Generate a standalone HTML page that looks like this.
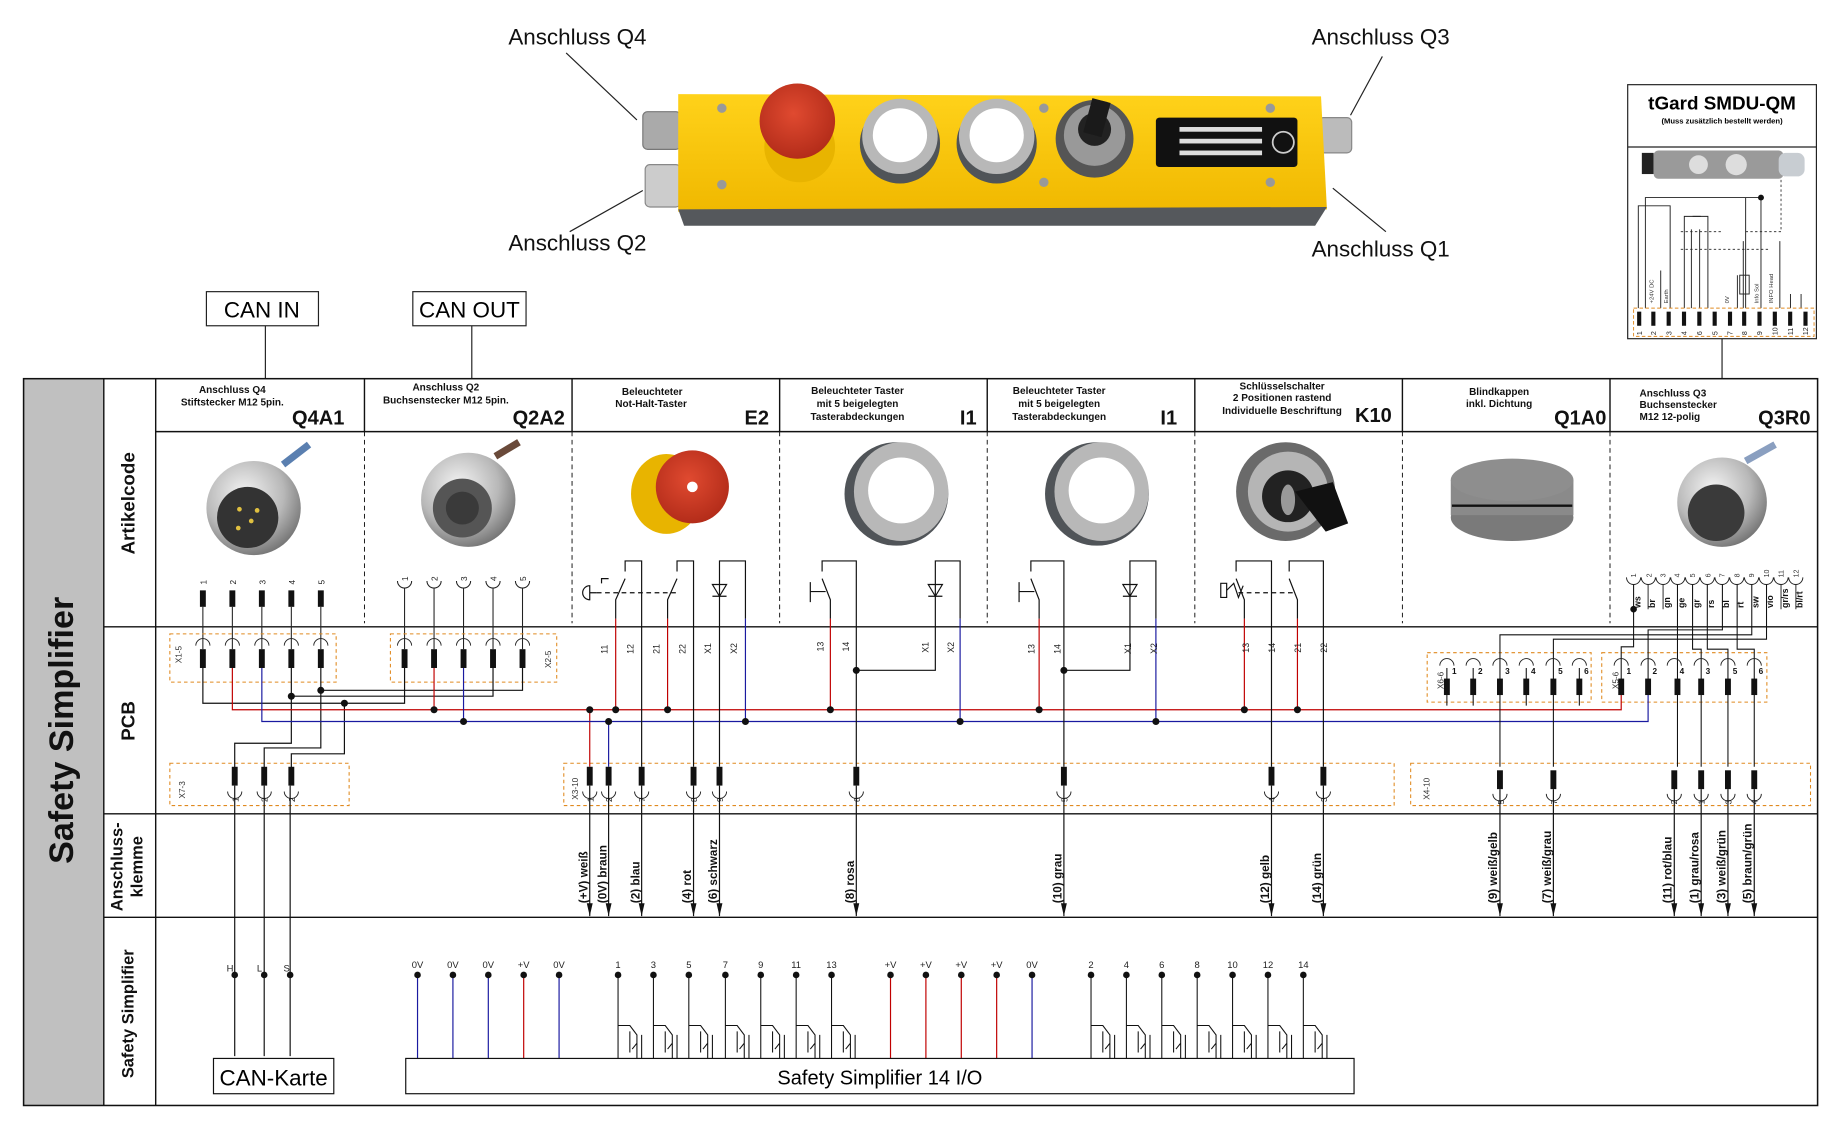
<!DOCTYPE html>
<html><head><meta charset="utf-8"><style>
html,body{margin:0;padding:0;background:#fff}
svg{display:block}
text{font-family:"Liberation Sans",sans-serif}
</style></head><body>
<svg width="1840" height="1129" viewBox="0 0 1560 960" preserveAspectRatio="none" xmlns="http://www.w3.org/2000/svg">
<defs>
<radialGradient id="silver" cx="40%" cy="35%" r="70%"><stop offset="0" stop-color="#f4f4f4"/><stop offset="0.6" stop-color="#b8b8b8"/><stop offset="1" stop-color="#707070"/></radialGradient>
<radialGradient id="red" cx="45%" cy="40%" r="65%"><stop offset="0" stop-color="#e04a30"/><stop offset="1" stop-color="#b02a18"/></radialGradient>
<linearGradient id="yel" x1="0" y1="0" x2="0" y2="1"><stop offset="0" stop-color="#ffd21a"/><stop offset="1" stop-color="#f0b800"/></linearGradient>
</defs>

<!-- Top labels -->
<g font-size="19" fill="#111">
<text x="431" y="38">Anschluss Q4</text>
<text x="1112" y="38">Anschluss Q3</text>
<text x="431" y="213">Anschluss Q2</text>
<text x="1112" y="218">Anschluss Q1</text>
</g>
<g stroke="#222" stroke-width="1">
<line x1="480" y1="45" x2="540" y2="102"/>
<line x1="1172" y1="48" x2="1145" y2="98"/>
<line x1="483" y1="197" x2="545" y2="162"/>
<line x1="1130" y1="160" x2="1175" y2="197"/>
</g>
<!-- device -->
<rect x="545" y="95" width="32" height="32" rx="4" fill="#aaa" stroke="#777"/>
<rect x="547" y="140" width="30" height="36" rx="4" fill="#ccc" stroke="#888"/>
<rect x="1118" y="100" width="28" height="30" rx="4" fill="#bbb" stroke="#888"/>
<polygon points="575,80 1120,82 1125,178 575,180" fill="url(#yel)"/>
<polygon points="575,178 1125,176 1115,192 580,192" fill="#55585c"/>
<circle cx="678" cy="125" r="30" fill="#e8b400"/>
<circle cx="676" cy="103" r="32" fill="url(#red)"/>
<circle cx="763" cy="122" r="34" fill="#505458"/>
<circle cx="763" cy="116" r="32" fill="#b8b8b8"/><circle cx="763" cy="115" r="23" fill="#fff"/>
<circle cx="845" cy="122" r="34" fill="#505458"/>
<circle cx="845" cy="116" r="32" fill="#b8b8b8"/><circle cx="845" cy="115" r="23" fill="#fff"/>
<circle cx="928" cy="118" r="33" fill="#555"/><circle cx="928" cy="115" r="26" fill="#999"/><circle cx="928" cy="110" r="14" fill="#222"/>
<rect x="922" y="85" width="16" height="30" fill="#1a1a1a" transform="rotate(15 930 100)"/>
<rect x="980" y="100" width="120" height="42" rx="3" fill="#111"/>
<g fill="#ddd"><rect x="1000" y="108" width="70" height="4"/><rect x="1000" y="118" width="70" height="4"/><rect x="1000" y="128" width="70" height="4"/></g>
<circle cx="1088" cy="121" r="9" fill="none" stroke="#ccc" stroke-width="1.5"/>
<g fill="#999"><circle cx="612" cy="92" r="4"/><circle cx="612" cy="157" r="4"/><circle cx="885" cy="92" r="4"/><circle cx="885" cy="155" r="4"/><circle cx="1077" cy="92" r="4"/><circle cx="1077" cy="155" r="4"/></g>

<!-- SMDU box -->
<rect x="1380" y="72" width="160" height="216" fill="#fff" stroke="#222" stroke-width="1"/>
<line x1="1380" y1="125" x2="1540" y2="125" stroke="#222"/>
<text x="1460" y="93" font-size="16" font-weight="bold" text-anchor="middle">tGard SMDU-QM</text>
<text x="1460" y="105" font-size="6.5" font-weight="bold" text-anchor="middle">(Muss zusätzlich bestellt werden)</text>
<rect x="1392" y="130" width="10" height="18" fill="#222"/>
<rect x="1402" y="128" width="110" height="24" rx="4" fill="#9a9a9a"/>
<rect x="1508" y="130" width="22" height="20" rx="6" fill="#c8cdd2"/>
<circle cx="1440" cy="140" r="8" fill="#ddd"/><circle cx="1472" cy="140" r="9" fill="#ddd"/>
<g fill="none" stroke="#222" stroke-width="0.8">
<path d="M1389,262 V175 H1416 V262"/>
<path d="M1395,262 V168 H1493 V262"/>
<path d="M1428,262 V184 H1442 M1441,195 V262"/>
<path d="M1448,262 V184 H1435 M1434,195 V262"/>
<path d="M1473,262 V234 M1478,262 V205"/>
<path d="M1480,262 V168 M1509,262 V205"/>
<path d="M1527,262 V250 M1518,262 V250 M1408,262 V230"/>
<rect x="1475" y="234" width="8" height="16"/>
</g>
<g fill="none" stroke="#222" stroke-width="0.7" stroke-dasharray="2,2">
<path d="M1425,197 H1460 M1480,197 H1510 V152"/>
<path d="M1425,212 H1500"/>
</g>
<circle cx="1493" cy="168" r="2.5" fill="#111"/>
<g font-size="5" fill="#333">
<text transform="translate(1402,258) rotate(-90)">+24V DC</text>
<text transform="translate(1414,258) rotate(-90)">Earth</text>
<text transform="translate(1466,258) rotate(-90)">0V</text>
<text transform="translate(1491,258) rotate(-90)">Info Sol</text>
<text transform="translate(1503,258) rotate(-90)">INFO Head</text>
</g>
<rect x="1385" y="262" width="153" height="24" fill="none" stroke="#e08a20" stroke-dasharray="3,2" stroke-width="0.8"/>
<g fill="#111">
<rect x="1388" y="265" width="3.5" height="12"/><rect x="1400" y="265" width="3.5" height="12"/><rect x="1413" y="265" width="3.5" height="12"/><rect x="1426" y="265" width="3.5" height="12"/><rect x="1439" y="265" width="3.5" height="12"/><rect x="1452" y="265" width="3.5" height="12"/><rect x="1465" y="265" width="3.5" height="12"/><rect x="1477" y="265" width="3.5" height="12"/><rect x="1490" y="265" width="3.5" height="12"/><rect x="1503" y="265" width="3.5" height="12"/><rect x="1516" y="265" width="3.5" height="12"/><rect x="1529" y="265" width="3.5" height="12"/>
</g>
<g font-size="6" fill="#222">
<text transform="translate(1392,285) rotate(-90)">1</text><text transform="translate(1404,285) rotate(-90)">2</text><text transform="translate(1417,285) rotate(-90)">3</text><text transform="translate(1430,285) rotate(-90)">4</text><text transform="translate(1443,285) rotate(-90)">6</text><text transform="translate(1456,285) rotate(-90)">5</text><text transform="translate(1469,285) rotate(-90)">7</text><text transform="translate(1481,285) rotate(-90)">8</text><text transform="translate(1494,285) rotate(-90)">9</text><text transform="translate(1507,285) rotate(-90)">10</text><text transform="translate(1520,285) rotate(-90)">11</text><text transform="translate(1533,285) rotate(-90)">12</text>
</g>
<line x1="1460" y1="288" x2="1460" y2="322" stroke="#222"/>

<!-- CAN boxes -->
<rect x="175" y="248" width="95" height="29" fill="#fff" stroke="#222"/>
<text x="222" y="270" font-size="19" text-anchor="middle">CAN IN</text>
<rect x="350" y="248" width="96" height="29" fill="#fff" stroke="#222"/>
<text x="398" y="270" font-size="19" text-anchor="middle">CAN OUT</text>
<line x1="225" y1="277" x2="225" y2="322" stroke="#222"/>
<line x1="400" y1="277" x2="400" y2="322" stroke="#222"/>

<!-- main frame -->
<rect x="20" y="322" width="68" height="618" fill="#c0c0c0"/>
<rect x="20" y="322" width="1521" height="618" fill="none" stroke="#111" stroke-width="1.3"/>
<g stroke="#111" stroke-width="1.2">
<line x1="88" y1="322" x2="88" y2="940"/>
<line x1="132" y1="322" x2="132" y2="940"/>
<line x1="132" y1="367" x2="1541" y2="367"/>
<line x1="88" y1="533" x2="1541" y2="533"/>
<line x1="88" y1="692" x2="1541" y2="692"/>
<line x1="88" y1="780" x2="1541" y2="780"/>
<line x1="309" y1="322" x2="309" y2="367"/><line x1="485" y1="322" x2="485" y2="367"/><line x1="661" y1="322" x2="661" y2="367"/><line x1="837" y1="322" x2="837" y2="367"/><line x1="1013" y1="322" x2="1013" y2="367"/><line x1="1189" y1="322" x2="1189" y2="367"/><line x1="1365" y1="322" x2="1365" y2="367"/>
</g>
<g stroke="#111" stroke-width="0.8" stroke-dasharray="4,3">
<line x1="309" y1="367" x2="309" y2="530"/><line x1="485" y1="367" x2="485" y2="530"/><line x1="661" y1="367" x2="661" y2="530"/><line x1="837" y1="367" x2="837" y2="530"/><line x1="1013" y1="367" x2="1013" y2="530"/><line x1="1189" y1="367" x2="1189" y2="530"/><line x1="1365" y1="367" x2="1365" y2="530"/>
</g>
<text transform="translate(62,621) rotate(-90)" font-size="29" font-weight="bold" text-anchor="middle" fill="#111">Safety Simplifier</text>
<g font-weight="bold" fill="#111" text-anchor="middle">
<text transform="translate(114,428) rotate(-90)" font-size="16">Artikelcode</text>
<text transform="translate(114,613) rotate(-90)" font-size="16">PCB</text>
<text transform="translate(104,737) rotate(-90)" font-size="14">Anschluss-</text>
<text transform="translate(121,737) rotate(-90)" font-size="14">klemme</text>
<text transform="translate(113,862) rotate(-90)" font-size="14">Safety Simplifier</text>
</g>

<!-- headers -->
<g font-size="8.5" font-weight="bold" fill="#111" text-anchor="middle">
<text x="197" y="334">Anschluss Q4</text><text x="197" y="345">Stiftstecker M12 5pin.</text>
<text x="378" y="332">Anschluss Q2</text><text x="378" y="343">Buchsenstecker M12 5pin.</text>
<text x="553" y="336">Beleuchteter</text><text x="552" y="346">Not-Halt-Taster</text>
<text x="727" y="335">Beleuchteter Taster</text><text x="727" y="346">mit 5 beigelegten</text><text x="727" y="357">Tasterabdeckungen</text>
<text x="898" y="335">Beleuchteter Taster</text><text x="898" y="346">mit 5 beigelegten</text><text x="898" y="357">Tasterabdeckungen</text>
<text x="1087" y="331">Schlüsselschalter</text><text x="1087" y="341">2 Positionen rastend</text><text x="1087" y="352">Individuelle Beschriftung</text>
<text x="1271" y="336">Blindkappen</text><text x="1271" y="346">inkl. Dichtung</text>
</g>
<g font-size="8.5" font-weight="bold" fill="#111">
<text x="1390" y="337">Anschluss Q3</text><text x="1390" y="347">Buchsenstecker</text><text x="1390" y="357">M12 12-polig</text>
</g>
<g font-size="17" font-weight="bold" fill="#111" text-anchor="end">
<text x="292" y="361">Q4A1</text><text x="479" y="361">Q2A2</text><text x="652" y="361">E2</text><text x="828" y="361">I1</text><text x="998" y="361">I1</text><text x="1180" y="359">K10</text><text x="1362" y="361">Q1A0</text><text x="1535" y="361">Q3R0</text>
</g>

<!-- article images -->
<circle cx="215" cy="432" r="40" fill="url(#silver)"/><circle cx="210" cy="440" r="26" fill="#333"/>
<g fill="#e0c040"><circle cx="203" cy="433" r="2"/><circle cx="213" cy="443" r="2"/><circle cx="202" cy="449" r="2"/><circle cx="218" cy="434" r="2"/></g>
<path d="M240,395 L262,378" stroke="#5a7fb0" stroke-width="6"/>
<circle cx="397" cy="425" r="40" fill="url(#silver)"/><circle cx="392" cy="432" r="25" fill="#555"/><circle cx="392" cy="432" r="14" fill="#3a3a3a"/>
<path d="M420,388 L440,376" stroke="#6a4a3a" stroke-width="6"/>
<ellipse cx="565" cy="420" rx="30" ry="34" fill="#e8b400"/>
<circle cx="587" cy="414" r="31" fill="url(#red)"/><circle cx="587" cy="414" r="4.5" fill="#fff"/>
<ellipse cx="760" cy="420" rx="44" ry="44" fill="#505458"/><ellipse cx="764" cy="418" rx="40" ry="42" fill="#b8b8b8"/><circle cx="764" cy="417" r="28" fill="#fff"/>
<ellipse cx="930" cy="420" rx="44" ry="44" fill="#505458"/><ellipse cx="934" cy="418" rx="40" ry="42" fill="#b8b8b8"/><circle cx="934" cy="417" r="28" fill="#fff"/>
<circle cx="1090" cy="418" r="42" fill="#6a6a6a"/><circle cx="1092" cy="418" r="34" fill="#b5b5b5"/><circle cx="1092" cy="422" r="22" fill="#222"/>
<path d="M1098,418 L1130,410 L1143,445 L1124,452 Z" fill="#111"/><ellipse cx="1092" cy="425" rx="6" ry="13" fill="#999"/>
<ellipse cx="1282" cy="440" rx="52" ry="20" fill="#7a7a7a"/>
<rect x="1230" y="408" width="104" height="30" fill="#8a8a8a"/>
<ellipse cx="1282" cy="408" rx="52" ry="18" fill="#8e8e8e"/>
<line x1="1231" y1="430" x2="1333" y2="430" stroke="#111" stroke-width="2"/>
<circle cx="1460" cy="427" r="38" fill="url(#silver)"/><circle cx="1455" cy="436" r="24" fill="#3a3a3a"/>
<path d="M1480,392 L1505,378" stroke="#8a9fc0" stroke-width="6"/>

<!-- Q4A1 pins -->
<g font-size="7" fill="#222">
<text transform="translate(175,497) rotate(-90)">1</text><text transform="translate(200,497) rotate(-90)">2</text><text transform="translate(225,497) rotate(-90)">3</text><text transform="translate(250,497) rotate(-90)">4</text><text transform="translate(275,497) rotate(-90)">5</text>
<text transform="translate(346,494) rotate(-90)">1</text><text transform="translate(371,494) rotate(-90)">2</text><text transform="translate(396,494) rotate(-90)">3</text><text transform="translate(421,494) rotate(-90)">4</text><text transform="translate(446,494) rotate(-90)">5</text>
</g>
<g fill="#111">
<rect x="169.5" y="502" width="5" height="14"/><rect x="194.5" y="502" width="5" height="14"/><rect x="219.5" y="502" width="5" height="14"/><rect x="244.5" y="502" width="5" height="14"/><rect x="269.5" y="502" width="5" height="14"/>
</g>
<g fill="none" stroke="#222" stroke-width="0.9">
<path d="M172,516 V552 M197,516 V552 M222,516 V552 M247,516 V552 M272,516 V552"/>
<path d="M337,494 a6,6 0 0 0 12,0 M362,494 a6,6 0 0 0 12,0 M387,494 a6,6 0 0 0 12,0 M412,494 a6,6 0 0 0 12,0 M437,494 a6,6 0 0 0 12,0"/>
<path d="M343,500 V552 M368,500 V552 M393,500 V552 M418,500 V552 M443,500 V552"/>
</g>
<!-- X1-5 / X2-5 -->
<g fill="none" stroke="#e08a20" stroke-width="0.9" stroke-dasharray="3,2.5">
<rect x="144" y="539" width="141" height="41"/><rect x="331" y="539" width="141" height="41"/>
<rect x="144" y="649" width="152" height="36"/>
<rect x="478" y="649" width="704" height="36"/>
<rect x="1196" y="649" width="339" height="36"/>
<rect x="1210" y="555" width="139" height="42"/>
<rect x="1358" y="555" width="140" height="42"/>
</g>
<g font-size="7" fill="#333">
<text transform="translate(154,564) rotate(-90)">X1-5</text>
<text transform="translate(467,568) rotate(-90)">X2-5</text>
<text transform="translate(157,679) rotate(-90)">X7-3</text>
<text transform="translate(490,680) rotate(-90)">X3-10</text>
<text transform="translate(1212,680) rotate(-90)">X4-10</text>
<text transform="translate(1224,586) rotate(-90)">X6-6</text>
<text transform="translate(1372,586) rotate(-90)">X5-6</text>
</g>
<g fill="none" stroke="#222" stroke-width="0.8">
<path d="M166,549 a6,6 0 0 1 12,0 M191,549 a6,6 0 0 1 12,0 M216,549 a6,6 0 0 1 12,0 M241,549 a6,6 0 0 1 12,0 M266,549 a6,6 0 0 1 12,0"/>
<path d="M337,549 a6,6 0 0 1 12,0 M362,549 a6,6 0 0 1 12,0 M387,549 a6,6 0 0 1 12,0 M412,549 a6,6 0 0 1 12,0 M437,549 a6,6 0 0 1 12,0"/>
</g>
<g fill="#111">
<rect x="169.5" y="552" width="5" height="16"/><rect x="194.5" y="552" width="5" height="16"/><rect x="219.5" y="552" width="5" height="16"/><rect x="244.5" y="552" width="5" height="16"/><rect x="269.5" y="552" width="5" height="16"/>
<rect x="340.5" y="552" width="5" height="16"/><rect x="365.5" y="552" width="5" height="16"/><rect x="390.5" y="552" width="5" height="16"/><rect x="415.5" y="552" width="5" height="16"/><rect x="440.5" y="552" width="5" height="16"/>
</g>

<!-- PCB wiring black -->
<g fill="none" stroke="#111" stroke-width="1">
<path d="M172,568 V598 H343 V568"/>
<path d="M247,568 V592 H418 V568"/>
<path d="M272,568 V587 H443 V568"/>
<path d="M199,653 V632 H247 V592"/>
<path d="M224,653 V636 H272 V587"/>
<path d="M247,653 V641 H292 V598"/>
</g>
<g fill="none" stroke="#c00000" stroke-width="1">
<path d="M197,568 V603.5 H1374.5 V580"/>
<path d="M368,568 V603.5"/>
<path d="M500,603.5 V652"/>
<path d="M522,526 V603.5 M566,526 V603.5 M704,526 V603.5 M881,526 V603.5 M1055,526 V603.5 M1100,526 V603.5"/>
</g>
<g fill="none" stroke="#1a1aa0" stroke-width="1">
<path d="M222,568 V613.5 H1397.3 V580"/>
<path d="M393,568 V613.5"/>
<path d="M516,613.5 V652"/>
<path d="M632,526 V613.5 M814,526 V613.5 M980,526 V613.5"/>
</g>
<g fill="#111">
<circle cx="247" cy="592" r="3"/><circle cx="272" cy="587" r="3"/><circle cx="292" cy="598" r="3"/>
<circle cx="368" cy="603.5" r="3"/><circle cx="393" cy="613.5" r="3"/>
<circle cx="500" cy="603.5" r="3"/><circle cx="522" cy="603.5" r="3"/><circle cx="566" cy="603.5" r="3"/><circle cx="704" cy="603.5" r="3"/><circle cx="881" cy="603.5" r="3"/><circle cx="1055" cy="603.5" r="3"/><circle cx="1100" cy="603.5" r="3"/>
<circle cx="516" cy="613.5" r="3"/><circle cx="632" cy="613.5" r="3"/><circle cx="814" cy="613.5" r="3"/><circle cx="980" cy="613.5" r="3"/>
<circle cx="726" cy="570" r="3"/><circle cx="902" cy="570" r="3"/>
</g>

<!-- switch symbols E2 / I1 / K10 -->
<g fill="none" stroke="#111" stroke-width="1">
<path d="M522,526 V510 L530,492 M530,486 V477 H544 V652"/>
<path d="M566,526 V510 L574,492 M574,486 V477 H588 V652"/>
<path d="M610,652 V477 H632 V526"/>
<path d="M604,497 H616 L610,507 Z M604,507 H616"/>
<path d="M704,526 V510 L697,492 M697,486 V477 H726 V652"/>
<path d="M726,570 H793 V477 H814 V526"/>
<path d="M787,497 H799 L793,507 Z M787,507 H799"/>
<path d="M881,526 V510 L874,492 M874,486 V477 H902 V652"/>
<path d="M902,570 H958 V477 H980 V526"/>
<path d="M952,497 H964 L958,507 Z M952,507 H964"/>
<path d="M1055,526 V510 L1048,492 M1048,486 V477 H1078 V652"/>
<path d="M1100,526 V510 L1093,492 M1093,486 V477 H1122 V652"/>
<path d="M687,495 V512 M687,503 H700"/>
<path d="M864,495 V512 M864,503 H877"/>
<path d="M500,498 a6,6 0 0 0 0,12 Z M500,504 H506 M510,496 V492 H516"/>
<path d="M1035,496 h5 v12 h-5 Z M1040,502 l6,-6 l4,12 l4,-10"/>
</g>
<g fill="none" stroke="#111" stroke-width="1" stroke-dasharray="4,3">
<path d="M506,504 H574"/><path d="M1050,504 H1096"/>
</g>
<g font-size="7.5" fill="#222">
<text transform="translate(515,556) rotate(-90)">11</text><text transform="translate(537,556) rotate(-90)">12</text><text transform="translate(559,556) rotate(-90)">21</text><text transform="translate(581,556) rotate(-90)">22</text><text transform="translate(603,556) rotate(-90)">X1</text><text transform="translate(625,556) rotate(-90)">X2</text>
<text transform="translate(698,554) rotate(-90)">13</text><text transform="translate(720,554) rotate(-90)">14</text><text transform="translate(787,555) rotate(-90)">X1</text><text transform="translate(809,555) rotate(-90)">X2</text>
<text transform="translate(877,556) rotate(-90)">13</text><text transform="translate(899,556) rotate(-90)">14</text><text transform="translate(959,556) rotate(-90)">X1</text><text transform="translate(981,556) rotate(-90)">X2</text>
<text transform="translate(1059,555) rotate(-90)">13</text><text transform="translate(1081,555) rotate(-90)">14</text><text transform="translate(1103,555) rotate(-90)">21</text><text transform="translate(1125,555) rotate(-90)">22</text>
</g>

<!-- Q3 pins -->
<g font-size="6" fill="#333">
<text transform="translate(1387,491) rotate(-90)">1</text><text transform="translate(1400,491) rotate(-90)">2</text><text transform="translate(1412,491) rotate(-90)">3</text><text transform="translate(1424,491) rotate(-90)">4</text><text transform="translate(1437,491) rotate(-90)">5</text><text transform="translate(1450,491) rotate(-90)">6</text><text transform="translate(1462,491) rotate(-90)">7</text><text transform="translate(1475,491) rotate(-90)">8</text><text transform="translate(1487,491) rotate(-90)">9</text><text transform="translate(1500,491) rotate(-90)">10</text><text transform="translate(1512,491) rotate(-90)">11</text><text transform="translate(1525,491) rotate(-90)">12</text>
</g>
<g fill="none" stroke="#222" stroke-width="0.8">
<path d="M1379,491 a6,6 0 0 0 12,0 M1391.5,491 a6,6 0 0 0 12,0 M1404,491 a6,6 0 0 0 12,0 M1416.5,491 a6,6 0 0 0 12,0 M1429,491 a6,6 0 0 0 12,0 M1441.5,491 a6,6 0 0 0 12,0 M1454,491 a6,6 0 0 0 12,0 M1466.5,491 a6,6 0 0 0 12,0 M1479,491 a6,6 0 0 0 12,0 M1491.5,491 a6,6 0 0 0 12,0 M1504,491 a6,6 0 0 0 12,0 M1516.5,491 a6,6 0 0 0 12,0"/>
<path d="M1397.3,497 V518 M1410,497 V518 M1510,497 V518 M1522.6,497 V518"/>
</g>
<g font-size="7.5" font-weight="bold" fill="#111">
<text transform="translate(1391,517) rotate(-90)">ws</text><text transform="translate(1403,517) rotate(-90)">br</text><text transform="translate(1416,517) rotate(-90)">gn</text><text transform="translate(1428,517) rotate(-90)">ge</text><text transform="translate(1441,517) rotate(-90)">gr</text><text transform="translate(1453,517) rotate(-90)">rs</text><text transform="translate(1466,517) rotate(-90)">bl</text><text transform="translate(1478,517) rotate(-90)">rt</text><text transform="translate(1491,517) rotate(-90)">sw</text><text transform="translate(1503,517) rotate(-90)">vio</text><text transform="translate(1516,517) rotate(-90)">gr/rs</text><text transform="translate(1528,517) rotate(-90)">bl/rt</text>
</g>
<g fill="none" stroke="#111" stroke-width="0.9">
<path d="M1385,497 V550 H1374.5 V578"/>
<path d="M1460.3,497 V535.6 H1397.3 V578"/>
<path d="M1485.2,497 V539.8 H1271.7 V652"/>
<path d="M1497.7,497 V543.5 H1317 V652"/>
<path d="M1422.2,497 V652"/>
<path d="M1435,497 V552 H1442.3 V652"/>
<path d="M1447.5,497 V552 H1465 V652"/>
<path d="M1472.8,497 V552 H1487.3 V652"/>
<path d="M1226.7,568 V600 M1249,568 V600 M1294,568 V600 M1339,568 V600"/>
</g>
<circle cx="1385" cy="518" r="2.8" fill="#111"/>
<!-- X6 / X5 pins -->
<g fill="none" stroke="#222" stroke-width="0.8">
<path d="M1220.7,566 a6,6 0 0 1 12,0 M1243,566 a6,6 0 0 1 12,0 M1265.7,566 a6,6 0 0 1 12,0 M1288,566 a6,6 0 0 1 12,0 M1310.7,566 a6,6 0 0 1 12,0 M1333,566 a6,6 0 0 1 12,0"/>
<path d="M1368.5,566 a6,6 0 0 1 12,0 M1391.3,566 a6,6 0 0 1 12,0 M1413.5,566 a6,6 0 0 1 12,0 M1436.3,566 a6,6 0 0 1 12,0 M1459,566 a6,6 0 0 1 12,0 M1481.3,566 a6,6 0 0 1 12,0"/>
</g>
<g font-size="7" font-weight="bold" fill="#111" text-anchor="middle">
<text x="1233" y="573">1</text><text x="1255" y="573">2</text><text x="1278" y="573">3</text><text x="1300" y="573">4</text><text x="1323" y="573">5</text><text x="1345" y="573">6</text>
<text x="1381" y="573">1</text><text x="1403" y="573">2</text><text x="1426" y="573">4</text><text x="1448" y="573">3</text><text x="1471" y="573">5</text><text x="1493" y="573">6</text>
</g>
<g fill="#111">
<rect x="1224.2" y="577" width="5" height="14"/><rect x="1246.5" y="577" width="5" height="14"/><rect x="1269.2" y="577" width="5" height="14"/><rect x="1291.5" y="577" width="5" height="14"/><rect x="1314.5" y="577" width="5" height="14"/><rect x="1336.5" y="577" width="5" height="14"/>
<rect x="1372" y="577" width="5" height="14"/><rect x="1394.8" y="577" width="5" height="14"/><rect x="1419.7" y="577" width="5" height="14"/><rect x="1439.8" y="577" width="5" height="14"/><rect x="1462.5" y="577" width="5" height="14"/><rect x="1484.8" y="577" width="5" height="14"/>
</g>

<!-- lower terminal pins (X7, X3, X4) -->
<g fill="#111">
<rect x="196.5" y="652" width="5" height="16"/><rect x="221.5" y="652" width="5" height="16"/><rect x="244.5" y="652" width="5" height="16"/>
<rect x="497.5" y="652" width="5" height="16"/><rect x="513.5" y="652" width="5" height="16"/><rect x="541.5" y="652" width="5" height="16"/><rect x="585.5" y="652" width="5" height="16"/><rect x="607.5" y="652" width="5" height="16"/><rect x="723.5" y="652" width="5" height="16"/><rect x="899.5" y="652" width="5" height="16"/><rect x="1075.5" y="652" width="5" height="16"/><rect x="1119.5" y="652" width="5" height="16"/>
<rect x="1269.2" y="655" width="5" height="16"/><rect x="1314.5" y="655" width="5" height="16"/><rect x="1417" y="655" width="5" height="16"/><rect x="1439.8" y="655" width="5" height="16"/><rect x="1462.5" y="655" width="5" height="16"/><rect x="1484.8" y="655" width="5" height="16"/>
</g>
<g fill="none" stroke="#222" stroke-width="0.8">
<path d="M193,673 a6,6 0 0 0 12,0 M218,673 a6,6 0 0 0 12,0 M241,673 a6,6 0 0 0 12,0"/>
<path d="M494,673 a6,6 0 0 0 12,0 M510,673 a6,6 0 0 0 12,0 M538,673 a6,6 0 0 0 12,0 M582,673 a6,6 0 0 0 12,0 M604,673 a6,6 0 0 0 12,0 M720,673 a6,6 0 0 0 12,0 M896,673 a6,6 0 0 0 12,0 M1072,673 a6,6 0 0 0 12,0 M1116,673 a6,6 0 0 0 12,0"/>
<path d="M1265.7,675 a6,6 0 0 0 12,0 M1311,675 a6,6 0 0 0 12,0 M1413.5,675 a6,6 0 0 0 12,0 M1436.3,675 a6,6 0 0 0 12,0 M1459,675 a6,6 0 0 0 12,0 M1481.3,675 a6,6 0 0 0 12,0"/>
</g>
<g font-size="7" fill="#222">
<text transform="translate(202,682) rotate(-90)">1</text><text transform="translate(227,682) rotate(-90)">2</text><text transform="translate(250,682) rotate(-90)">2</text>
<text transform="translate(503,682) rotate(-90)">1</text><text transform="translate(519,682) rotate(-90)">2</text><text transform="translate(547,682) rotate(-90)">7</text><text transform="translate(591,682) rotate(-90)">8</text><text transform="translate(613,682) rotate(-90)">9</text><text transform="translate(729,682) rotate(-90)">6</text><text transform="translate(905,682) rotate(-90)">5</text><text transform="translate(1081,682) rotate(-90)">4</text><text transform="translate(1125,682) rotate(-90)">3</text>
<text transform="translate(1275,684) rotate(-90)">5</text><text transform="translate(1320,684) rotate(-90)">7</text><text transform="translate(1422,684) rotate(-90)">2</text><text transform="translate(1445,684) rotate(-90)">1</text><text transform="translate(1468,684) rotate(-90)">3</text><text transform="translate(1490,684) rotate(-90)">4</text>
</g>

<!-- klemme lines with arrows -->
<g stroke="#111" stroke-width="1" fill="none">
<path d="M199,668 V898 M224,668 V898 M246,668 V898"/>
<path d="M500,668 V779 M516,668 V779 M544,668 V779 M588,668 V779 M610,668 V779 M726,668 V779 M902,668 V779 M1078,668 V779 M1122,668 V779 M1271.7,671 V779 M1317,671 V779 M1419.5,671 V779 M1442.3,671 V779 M1465,671 V779 M1487.3,671 V779"/>
</g>
<g fill="#111">
<path d="M497.5,768 h5 l-2.5,11 Z M513.5,768 h5 l-2.5,11 Z M541.5,768 h5 l-2.5,11 Z M585.5,768 h5 l-2.5,11 Z M607.5,768 h5 l-2.5,11 Z M723.5,768 h5 l-2.5,11 Z M899.5,768 h5 l-2.5,11 Z M1075.5,768 h5 l-2.5,11 Z M1119.5,768 h5 l-2.5,11 Z M1269.2,768 h5 l-2.5,11 Z M1314.5,768 h5 l-2.5,11 Z M1417,768 h5 l-2.5,11 Z M1439.8,768 h5 l-2.5,11 Z M1462.5,768 h5 l-2.5,11 Z M1484.8,768 h5 l-2.5,11 Z"/>
</g>
<g font-size="10" font-weight="bold" fill="#111">
<text transform="translate(498,768) rotate(-90)">(+V) weiß</text>
<text transform="translate(514,768) rotate(-90)">(0V) braun</text>
<text transform="translate(542,768) rotate(-90)">(2) blau</text>
<text transform="translate(586,768) rotate(-90)">(4) rot</text>
<text transform="translate(608,768) rotate(-90)">(6) schwarz</text>
<text transform="translate(724,768) rotate(-90)">(8) rosa</text>
<text transform="translate(900,768) rotate(-90)">(10) grau</text>
<text transform="translate(1076,768) rotate(-90)">(12) gelb</text>
<text transform="translate(1120,768) rotate(-90)">(14) grün</text>
<text transform="translate(1269,768) rotate(-90)">(9) weiß/gelb</text>
<text transform="translate(1315,768) rotate(-90)">(7) weiß/grau</text>
<text transform="translate(1417,768) rotate(-90)">(11) rot/blau</text>
<text transform="translate(1440,768) rotate(-90)">(1) grau/rosa</text>
<text transform="translate(1463,768) rotate(-90)">(3) weiß/grün</text>
<text transform="translate(1485,768) rotate(-90)">(5) braun/grün</text>
</g>

<!-- Safety Simplifier row -->
<g font-size="8" fill="#222" text-anchor="middle">
<text x="195" y="826">H</text><text x="220" y="826">L</text><text x="243" y="826">S</text>
<text x="354" y="823">0V</text><text x="384" y="823">0V</text><text x="414" y="823">0V</text><text x="444" y="823">+V</text><text x="474" y="823">0V</text>
<text x="524" y="823">1</text><text x="554" y="823">3</text><text x="584" y="823">5</text><text x="615" y="823">7</text><text x="645" y="823">9</text><text x="675" y="823">11</text><text x="705" y="823">13</text>
<text x="755" y="823">+V</text><text x="785" y="823">+V</text><text x="815" y="823">+V</text><text x="845" y="823">+V</text><text x="875" y="823">0V</text>
<text x="925" y="823">2</text><text x="955" y="823">4</text><text x="985" y="823">6</text><text x="1015" y="823">8</text><text x="1045" y="823">10</text><text x="1075" y="823">12</text><text x="1105" y="823">14</text>
</g>
<g stroke-width="1" fill="none">
<path stroke="#1a1aa0" d="M354,829 V900 M384,829 V900 M414,829 V900 M474,829 V900 M875,829 V900"/>
<path stroke="#c00000" d="M444,829 V900 M755,829 V900 M785,829 V900 M815,829 V900 M845,829 V900"/>
</g>
<g fill="#111">
<circle cx="199" cy="829" r="2.8"/><circle cx="224" cy="829" r="2.8"/><circle cx="246" cy="829" r="2.8"/>
<circle cx="354" cy="829" r="2.8"/><circle cx="384" cy="829" r="2.8"/><circle cx="414" cy="829" r="2.8"/><circle cx="444" cy="829" r="2.8"/><circle cx="474" cy="829" r="2.8"/>
<circle cx="524" cy="829" r="2.8"/><circle cx="554" cy="829" r="2.8"/><circle cx="584" cy="829" r="2.8"/><circle cx="615" cy="829" r="2.8"/><circle cx="645" cy="829" r="2.8"/><circle cx="675" cy="829" r="2.8"/><circle cx="705" cy="829" r="2.8"/>
<circle cx="755" cy="829" r="2.8"/><circle cx="785" cy="829" r="2.8"/><circle cx="815" cy="829" r="2.8"/><circle cx="845" cy="829" r="2.8"/><circle cx="875" cy="829" r="2.8"/>
<circle cx="925" cy="829" r="2.8"/><circle cx="955" cy="829" r="2.8"/><circle cx="985" cy="829" r="2.8"/><circle cx="1015" cy="829" r="2.8"/><circle cx="1045" cy="829" r="2.8"/><circle cx="1075" cy="829" r="2.8"/><circle cx="1105" cy="829" r="2.8"/>
</g>
<g stroke="#111" stroke-width="0.9" fill="none">
<path d="M524,829 V900 M524,872 H534 L540,880 V900 M534,877 V895 M540,887 L536,892 M544,880 V900"/>
<path d="M554,829 V900 M554,872 H564 L570,880 V900 M564,877 V895 M570,887 L566,892 M574,880 V900"/>
<path d="M584,829 V900 M584,872 H594 L600,880 V900 M594,877 V895 M600,887 L596,892 M604,880 V900"/>
<path d="M615,829 V900 M615,872 H625 L631,880 V900 M625,877 V895 M631,887 L627,892 M635,880 V900"/>
<path d="M645,829 V900 M645,872 H655 L661,880 V900 M655,877 V895 M661,887 L657,892 M665,880 V900"/>
<path d="M675,829 V900 M675,872 H685 L691,880 V900 M685,877 V895 M691,887 L687,892 M695,880 V900"/>
<path d="M705,829 V900 M705,872 H715 L721,880 V900 M715,877 V895 M721,887 L717,892 M725,880 V900"/>
<path d="M925,829 V900 M925,872 H935 L941,880 V900 M935,877 V895 M941,887 L937,892 M945,880 V900"/>
<path d="M955,829 V900 M955,872 H965 L971,880 V900 M965,877 V895 M971,887 L967,892 M975,880 V900"/>
<path d="M985,829 V900 M985,872 H995 L1001,880 V900 M995,877 V895 M1001,887 L997,892 M1005,880 V900"/>
<path d="M1015,829 V900 M1015,872 H1025 L1031,880 V900 M1025,877 V895 M1031,887 L1027,892 M1035,880 V900"/>
<path d="M1045,829 V900 M1045,872 H1055 L1061,880 V900 M1055,877 V895 M1061,887 L1057,892 M1065,880 V900"/>
<path d="M1075,829 V900 M1075,872 H1085 L1091,880 V900 M1085,877 V895 M1091,887 L1087,892 M1095,880 V900"/>
<path d="M1105,829 V900 M1105,872 H1115 L1121,880 V900 M1115,877 V895 M1121,887 L1117,892 M1125,880 V900"/>
</g>
<rect x="181" y="900" width="102" height="30" fill="#fff" stroke="#111"/>
<text x="232" y="923" font-size="19" text-anchor="middle">CAN-Karte</text>
<rect x="344" y="900" width="804" height="30" fill="#fff" stroke="#111"/>
<text x="746" y="922" font-size="17" text-anchor="middle">Safety Simplifier 14 I/O</text>
</svg>
</body></html>
